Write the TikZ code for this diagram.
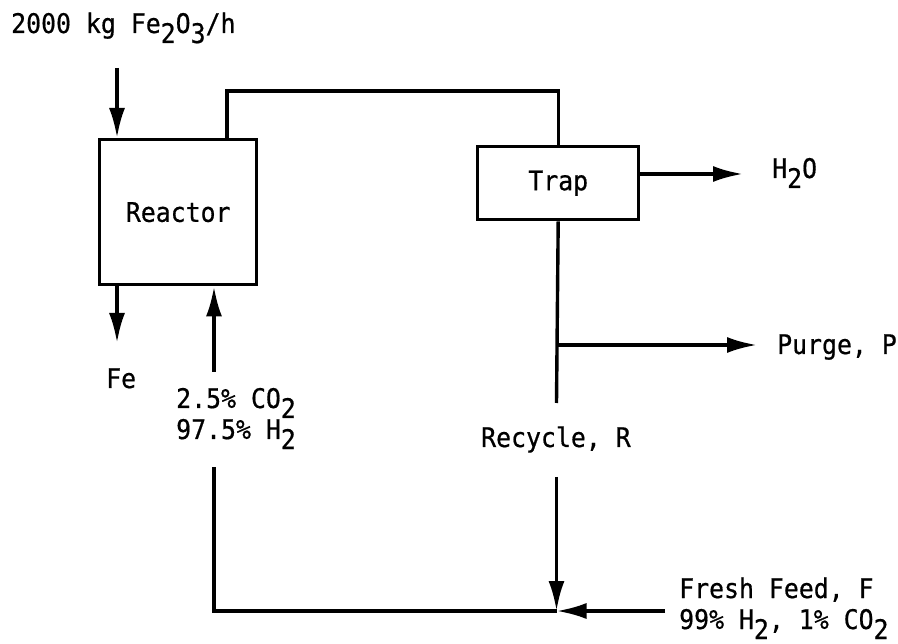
\documentclass[tikz,border=0pt]{standalone}
\usepackage{fontspec}
\setmonofont[FakeStretch=0.92,FakeBold=0.6]{DejaVu Sans Mono}
\usetikzlibrary{arrows.meta}
\newcommand\lowsub[1]{\raisebox{-10pt}{#1}}
\begin{document}
\begin{tikzpicture}[x=1pt,y=-1pt,
  every node/.style={font=\ttfamily\fontsize{27}{31}\selectfont, inner sep=0pt},
  pipe/.style={line width=3.4pt},
  flow/.style={pipe, -{Latex[length=30pt,width=16pt]}},
  unit/.style={draw, line width=3.4pt, anchor=north west, align=center},
  lbl/.style={anchor=base west}]
\useasboundingbox (0,0) rectangle (898,644);

% units
\node[unit, minimum width=157pt, minimum height=145pt] (reactor) at (98,138) {Reactor};
\node[unit, minimum width=161pt, minimum height=73pt] (trap) at (476,145) {\raisebox{4pt}{Trap}};

% free ends and bends
\coordinate (fein) at (117,68);
\coordinate (rtop) at (227,91);
\coordinate (h2oend) at (743,174);
\coordinate (purgeend) at (757,345);
\coordinate (recupper) at (556.5,403);
\coordinate (reclower) at (556.5,477);
\coordinate (junction) at (556.5,611);
\coordinate (feedstart) at (665,611);
\coordinate (corner) at (214,611);
\coordinate (leftlower) at (214,467);
\coordinate (leftupper) at (214,372);
\coordinate (feout) at (117,343);

% connectors
\draw[flow] (fein) -- (fein |- reactor.north);
\draw[pipe] (reactor.north -| rtop) -- (rtop) -| (trap.north);
\draw[flow] (trap.east |- h2oend) -- (h2oend);
\draw[pipe] (trap.south) -- (recupper);
\draw[flow] (trap.south |- purgeend) -- (purgeend);
\draw[flow] (reclower) -- (junction);
\draw[flow] (feedstart) -- (junction);
\draw[pipe] (junction) -- (corner) -- (leftlower);
\draw[flow] (leftupper) -- (leftupper |- reactor.south);
\draw[flow] (feout |- reactor.south) -- (feout);

% labels
\node[lbl] (feedlbl) at (11,33) {2000 kg Fe\lowsub{2}O\lowsub{3}/h};
\node[lbl] (h2o) at (772,178) {H\lowsub{2}O};
\node[lbl] (purgelbl) at (777,354) {Purge, P};
\node[lbl] (felbl) at (106,388) {Fe};
\node[lbl] (mix1) at (176,408) {2.5\% CO\lowsub{2}};
\node[lbl] (mix2) at (176,439) {97.5\% H\lowsub{2}};
\node[lbl] (reclbl) at (481,447) {Recycle, R};
\node[lbl] (fresh1) at (679,598) {Fresh Feed, F};
\node[lbl] (fresh2) at (679,629) {99\% H\lowsub{2}, 1\% CO\lowsub{2}};
\end{tikzpicture}
\end{document}
